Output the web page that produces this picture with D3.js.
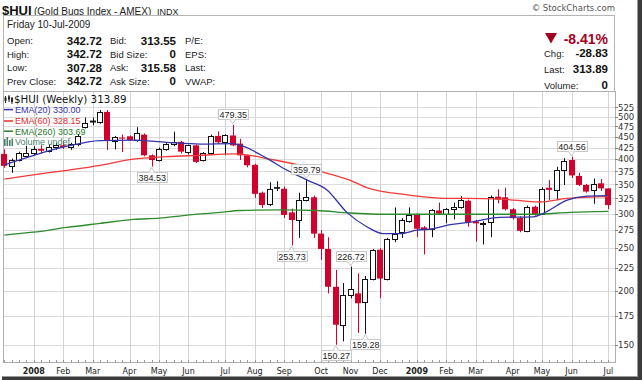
<!DOCTYPE html>
<html><head><meta charset="utf-8">
<script src="https://cdn.jsdelivr.net/npm/d3@7"></script>
<style>body{margin:0;background:#fff}svg{display:block}</style>
</head><body><svg id="c" width="644" height="380"></svg>
<script>
// ---- weekly OHLC, $HUI, 14-Dec-2007 .. 10-Jul-2009 ----
const opens  = [411,385,397,407,414,422,418,426,430,426,432,474,490,486,513,439,448,451,442,455,408,397,422,432,438,416,430,398,413,452,437,453,434,408,388,335,316,345,342,302,290,322,327,270,249,204,167,195,197,188,213,248,213,262,272,289,298,279,276,305,300,307,310,321,288,284,287,328,327,307,293,274,311,299,344,340,378,398,366,349,340,352,342.72];
const highs  = [421,401,416,429,428,430,432,436,440,436,456,498,498,518,518,452,455,453,473,458,410,425,435,462,440,432,432,415,455,463,456,479.35,445,409,390,337,354,356,346,308,335,359.79,330,275,265,223,208,226.72,219,216,249,250,264,310,293,310,300,281,307,318,309,318,329,323,290,288,330,341,344,309,296,313,313,345,358,384,402,404.56,372,351,361,360,342.72];
const lows   = [382,372,395,405,408,412,414,420,422,420,428,470,478,482,420,421,415,440,438,406,384.53,395,418,428,412,410,392,395,410,433,408,428,398,383,326,309,312,338,293,253.73,264,320,264,235,197,150.27,153,192,160,159.28,211,192,211,258,264,286,265,242,265,298,285,291,308,280,259,255,265,317,305,291,272,272,297,298,322,322,349,362,347,335,316,338,307.28];
const closes = [386,397,413,414,422,418,426,430,426,432,452,483,485,513,440,450,447,442,458,408,398,422,432,438,416,430,394,413,452,437,453,430,408,387,333,314,341,342,298,290,323,327,270,249,204,167,195,202,187,213,247,213,262,270,290,298,277,275,305,300,307,311,322,287,285,286,327,323,307,293,274,311,299,342,340,378,396,367,349,337,351,342.72,313.89];

// ---- moving averages: [week index, value] ----
const ema20  = [[0,388],[4,408],[8.5,428],[13,441],[17.5,442],[22,437],[26.6,433],[31,434],[32.4,428],[35.7,401],[38.4,377],[41.1,358],[43.8,340],[46.5,302],[49.2,280],[51.4,270],[53.7,270],[56,275],[58.2,277],[60.5,283],[62.8,286],[67.3,294],[71.8,295],[73.1,300],[76.4,322],[79.1,329],[82,330]];
const ema60  = [[0,360],[3.9,368],[8.5,377],[13,387],[17.5,400],[22,405],[26.6,408],[31,411],[33.4,408],[35.7,401],[40.1,387],[42.4,377],[44.6,368],[46.9,358],[49.2,344],[51.4,337],[53.7,333],[56,329],[60.5,325],[62.8,325],[67.3,324],[72.7,319],[76.4,325],[82,328.15]];
const ema260 = [[0,268],[3.9,272],[8.5,279],[13,285],[17.5,291],[21.1,293],[24.3,297],[29.3,302],[32,305],[37.8,306],[42.4,305],[46.9,301],[51.9,299],[56.4,299],[71.8,299],[76.8,302],[82,303.69]];

// ---- axes ----
const monthTickIdx    = [4,8,12,17,21,25,30,34,38,43,47,51,56,60,64,69,73,77,82];
const monthTickLabels = ["2008","Feb","Mar","Apr","May","Jun","Jul","Aug","Sep","Oct","Nov","Dec","2009","Feb","Mar","Apr","May","Jun","Jul"];
const priceTicks = [150,175,200,225,250,275,300,325,350,375,400,425,450,475,500,525];

// ---- annotations ----
const annotIdx  = [20,31,39,41,45,47,49,77];
const annotKind = ["low","high","low","high","low","high","low","high"];

// ---- header ----
const legendLabels = ["$HUI (Weekly) 313.89","EMA(20) 330.00","EMA(60) 328.15","EMA(260) 303.69","Volume undef"];
const quoteLabels1 = ["Open:","High:","Low:","Prev Close:"];
const quoteValues1 = ["342.72","342.72","307.28","342.72"];
const quoteLabels2 = ["Bid:","Bid Size:","Ask:","Ask Size:"];
const quoteValues2 = ["313.55","0","315.58","0"];
const quoteLabels3 = ["P/E:","EPS:","Last:","VWAP:"];
const rightLabels = ["Chg:","Last:","Volume:"];
const rightValues = ["-28.83","313.89","0"];

const svg = d3.select("#c");
const n = closes.length;
const L = 3, R = 615, T = 91.5, B = 362.5;
const x = d3.scaleLinear().domain([0, n-1]).range([4.3, 608.4]);
const y = d3.scaleLog().domain([136.7, 569.7]).range([362.7, 92]);
const crisp = v => Math.round(v) + 0.5;

const RED = "#d3002b";
const sans = "Liberation Sans, Arial, sans-serif";
const dv = "DejaVu Sans, Verdana, sans-serif";

svg.append("rect").attr("width",644).attr("height",380).attr("fill","#fff");

// ---- title ----
svg.append("text").attr("x",2).attr("y",14.5).attr("font-family",sans).attr("font-weight","bold").attr("font-size",13).attr("fill","#111").text("$HUI");
svg.append("text").attr("x",34).attr("y",14.5).attr("font-family",sans).attr("font-size",10).attr("fill","#222").text("(Gold Bugs Index - AMEX)");
svg.append("text").attr("x",157).attr("y",14.5).attr("font-family",sans).attr("font-size",9).attr("fill","#222").text("INDX");
svg.append("text").attr("x",615).attr("y",11).attr("text-anchor","end").attr("font-family",dv).attr("font-size",8.5).attr("fill","#555").text("\u00A9 StockCharts.com");

// ---- header box ----
svg.append("rect").attr("x",3.5).attr("y",15.5).attr("width",611).attr("height",76).attr("fill","#fff").attr("stroke","#b5b5b5");
svg.append("text").attr("x",7).attr("y",27.6).attr("font-family",sans).attr("font-size",10).attr("fill","#222").text("Friday  10-Jul-2009");
const rowY = [44.1,57.7,71.1,84.6];
rowY.forEach((ry,k)=>{
  svg.append("text").attr("x",7).attr("y",ry).attr("font-family",sans).attr("font-size",9.5).attr("fill","#222").text(quoteLabels1[k]);
  svg.append("text").attr("x",102).attr("y",ry+0.4).attr("text-anchor","end").attr("font-family",sans).attr("font-weight","bold").attr("font-size",11.5).attr("fill","#111").text(quoteValues1[k]);
  svg.append("text").attr("x",110).attr("y",ry).attr("font-family",sans).attr("font-size",9.5).attr("fill","#222").text(quoteLabels2[k]);
  svg.append("text").attr("x",176).attr("y",ry+0.4).attr("text-anchor","end").attr("font-family",sans).attr("font-weight","bold").attr("font-size",11.5).attr("fill","#111").text(quoteValues2[k]);
  svg.append("text").attr("x",185).attr("y",ry).attr("font-family",sans).attr("font-size",9.5).attr("fill","#222").text(quoteLabels3[k]);
});
svg.append("path").attr("d","M545,33 L557,33 L551,43.5 Z").attr("fill","#a3001f");
svg.append("text").attr("x",608).attr("y",44).attr("text-anchor","end").attr("font-family",sans).attr("font-weight","bold").attr("font-size",14).attr("fill","#a3001f").text("-8.41%");
[57,73,88.5].forEach((ry,k)=>{
  svg.append("text").attr("x",544).attr("y",ry).attr("font-family",sans).attr("font-size",9.5).attr("fill","#222").text(rightLabels[k]);
  svg.append("text").attr("x",608).attr("y",ry).attr("text-anchor","end").attr("font-family",sans).attr("font-weight","bold").attr("font-size",11.5).attr("fill","#111").text(rightValues[k]);
});

// ---- plot panel ----
const g = svg.append("g");
g.append("rect").attr("x",L+0.5).attr("y",T).attr("width",R-L).attr("height",B-T).attr("fill","#fff");
g.selectAll(".hg").data(priceTicks).enter().append("line")
  .attr("x1",L).attr("x2",R).attr("y1",d=>crisp(y(d))).attr("y2",d=>crisp(y(d)))
  .attr("stroke","#dcdcdc").attr("stroke-width",1);
g.selectAll(".vg").data(monthTickIdx).enter().append("line")
  .attr("x1",d=>crisp(x(d))).attr("x2",d=>crisp(x(d))).attr("y1",T).attr("y2",B)
  .attr("stroke","#d4d4d4").attr("stroke-width",1);
g.append("rect").attr("x",L+0.5).attr("y",T).attr("width",R-L).attr("height",B-T).attr("fill","none").attr("stroke","#b0b0b0");

g.selectAll(".wt").data(d3.range(n)).enter().append("line")
  .attr("x1",d=>crisp(x(d))).attr("x2",d=>crisp(x(d))).attr("y1",B-2.5).attr("y2",B)
  .attr("stroke","#999");
g.selectAll(".rt").data(priceTicks).enter().append("line")
  .attr("x1",R).attr("x2",R+3).attr("y1",d=>crisp(y(d))).attr("y2",d=>crisp(y(d))).attr("stroke","#888");
g.selectAll(".rl").data(priceTicks).enter().append("text")
  .attr("x",618).attr("y",d=>y(d)+3.2).attr("font-family",dv).attr("font-size",8.5).attr("fill","#333").text(d=>d);
g.selectAll(".ml").data(monthTickIdx).enter().append("text")
  .attr("x",d=>x(d)).attr("y",373.5).attr("text-anchor","middle")
  .attr("font-family",dv).attr("font-size",8)
  .attr("font-weight",(d,k)=>/^\d/.test(monthTickLabels[k])?"bold":"normal")
  .attr("fill","#222").text((d,k)=>monthTickLabels[k]);

// ---- candles ----
const idx = d3.range(n);
const cg = g.append("g");
idx.forEach(i=>{
  const cx = crisp(x(i));
  const o = opens[i], c = closes[i], h = highs[i], l = lows[i];
  const prev = i>0 ? closes[i-1] : o;
  const col = c < prev ? RED : "#111";
  const filled = c < o;
  cg.append("line").attr("x1",cx).attr("x2",cx).attr("y1",y(h)).attr("y2",y(l)).attr("stroke",col).attr("stroke-width",1);
  const yt = y(Math.max(o,c)), yb = y(Math.min(o,c));
  if (filled) {
    cg.append("rect").attr("x",cx-3.5).attr("y",yt).attr("width",6).attr("height",Math.max(1,yb-yt)).attr("fill",col);
  } else {
    cg.append("rect").attr("x",cx-3).attr("y",Math.round(yt)+0.5).attr("width",5).attr("height",Math.max(1,Math.round(yb)-Math.round(yt))).attr("fill","#fff").attr("stroke",col).attr("stroke-width",1);
  }
});

// ---- EMA lines ----
const line = d3.line().x(d=>x(d[0])).y(d=>y(d[1])).curve(d3.curveMonotoneX);
g.append("path").attr("d",line(ema260)).attr("fill","none").attr("stroke","#2e8b2e").attr("stroke-width",1.3);
g.append("path").attr("d",line(ema60)).attr("fill","none").attr("stroke","#f23a3a").attr("stroke-width",1.3);
g.append("path").attr("d",line(ema20)).attr("fill","none").attr("stroke","#3434a8").attr("stroke-width",1.3);

// ---- annotations ----
annotIdx.forEach((i,k)=>{
  const cx = x(i);
  const hi = annotKind[k]==="high";
  const v = hi ? highs[i] : lows[i];
  const tip = y(v) + (hi ? -1 : 1);
  const bw = 30, bh = 10;
  const by = hi ? y(v) - 5.5 - bh : y(v) + 5.5;
  const edge = hi ? by + bh : by;
  g.append("rect").attr("x",Math.round(cx-bw/2)+0.5).attr("y",Math.round(by)+0.5).attr("width",bw).attr("height",bh)
    .attr("fill","#fff").attr("stroke","#c8c8c8");
  g.append("path").attr("d",`M${cx-3},${Math.round(edge)+0.5} L${cx},${tip} L${cx+3},${Math.round(edge)+0.5}`)
    .attr("fill","#fff").attr("stroke","#c8c8c8");
  g.append("text").attr("x",cx+0.5).attr("y",Math.round(by)+bh-1.5).attr("text-anchor","middle")
    .attr("font-family",sans).attr("font-size",9).attr("fill","#222").text(v.toFixed(2));
});

// ---- legend ----
const legY = [99.3,109.6,121,131.2,141.7];
const legCol = ["#111","#3434a8","#e82a2a","#2a7a2a","#4d7f6d"];
[[5,96,103,97.5,101],[8.5,95,102,96.5,99.5],[11.5,97,104,98,102]].forEach(a=>{
  g.append("line").attr("x1",a[0]+0.5).attr("x2",a[0]+0.5).attr("y1",a[1]).attr("y2",a[2]).attr("stroke","#222");
  g.append("rect").attr("x",a[0]-0.5).attr("y",a[3]).attr("width",2).attr("height",a[4]-a[3]).attr("fill","#222");
});
g.append("text").attr("x",14).attr("y",legY[0]+3.8).attr("font-family",dv).attr("font-size",10.3).attr("fill",legCol[0]).text(legendLabels[0]);
[1,2,3].forEach(k=>{
  g.append("line").attr("x1",4).attr("x2",13).attr("y1",legY[k]).attr("y2",legY[k]).attr("stroke",legCol[k]).attr("stroke-width",1.5);
  g.append("text").attr("x",15).attr("y",legY[k]+3.3).attr("font-family",sans).attr("font-size",9).attr("fill",legCol[k]).text(legendLabels[k]);
});
[[4,139],[6.5,137],[9,140],[11.5,138.5]].forEach(a=>{
  g.append("rect").attr("x",a[0]).attr("y",a[1]).attr("width",1.6).attr("height",146-a[1]).attr("fill",legCol[4]);
});
g.append("text").attr("x",15).attr("y",legY[4]+3.3).attr("font-family",sans).attr("font-size",9).attr("fill",legCol[4]).text(legendLabels[4]);

// ---- frame shadow ----
svg.append("rect").attr("x",637).attr("y",0).attr("width",1).attr("height",380).attr("fill","#9a9a9a");
svg.append("rect").attr("x",638).attr("y",0).attr("width",4).attr("height",380).attr("fill","#3c3c3c");
svg.append("rect").attr("x",2).attr("y",377).attr("width",640).attr("height",3).attr("fill","#3c3c3c");
svg.append("rect").attr("x",2).attr("y",376).attr("width",636).attr("height",1).attr("fill","#9a9a9a");
</script></body></html>
